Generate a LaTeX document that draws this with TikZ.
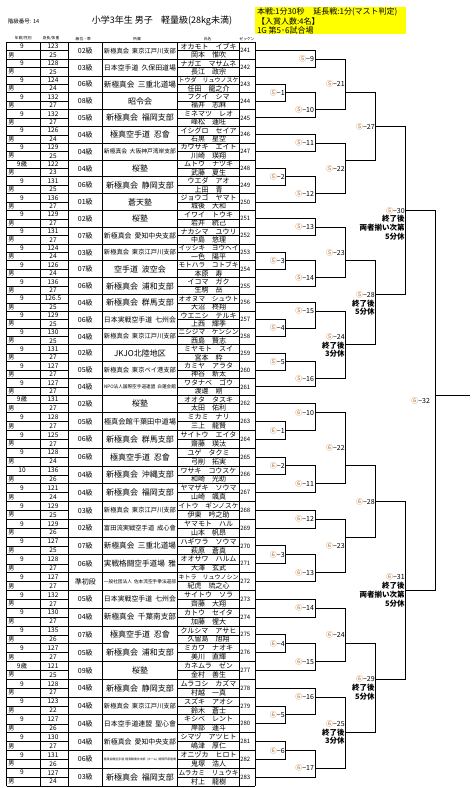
\documentclass[tikz,border=0pt]{standalone}
\usepackage{fontspec}
\setmainfont{Noto Sans CJK JP}
\usepackage{graphicx}
\usetikzlibrary{calc}
\definecolor{circ}{RGB}{185,105,35}
\definecolor{hl}{RGB}{255,255,0}
\newsavebox\fitbox
\newcommand\fitto[2]{\sbox\fitbox{#2}\ifdim\wd\fitbox>#1\relax\resizebox{#1}{!}{\usebox\fitbox}\else\usebox\fitbox\fi}
\newcommand\fsz[1]{\fontsize{#1}{#1}\selectfont}
\newcommand\gap{\hspace{0.45em}}
\pgfmathdeclarefunction{Yh}{1}{\pgfmathparse{(#1<43.5) ? (42.3+8.405*#1) : (403.7+8.89*(#1-43))}}
\newcommand\match[3]{\draw[br] (#2) -- (#2 -| #1) -- (#3 -| #1) -- (#3);}
\begin{document}
\begin{tikzpicture}[x=1pt,y=-1pt,
  tx/.style={inner sep=0pt,outer sep=0pt},
  lab/.style={inner sep=0pt,outer sep=0pt,anchor=east,font=\fsz{7}},
  note/.style={inner sep=0pt,outer sep=0pt,anchor=east,font=\fsz{7.5}\bfseries},
  br/.style={line width=0.9pt},
  tl/.style={line width=0.8pt},
  ts/.style={line width=0.45pt}]
\useasboundingbox (0,0) rectangle (474,788);

% ---------- header ----------
\node[tx,anchor=west,font=\fsz{5.5}] (lvl) at (8,21) {階級番号: 14};
\node[tx,font=\fsz{9}] (title) at (162,21) {小学3年生 男子\hspace{0.9em}軽量級(28kg未満)};
\fill[hl] (255,7) rectangle (405.7,34.3);
\node[tx,anchor=west,font=\fsz{8}] (info1) at (257,12.4) {本戦:1分30秒\hspace{1.1em}延長戦:1分(マスト判定)};
\node[tx,anchor=west,font=\fsz{8}] (info2) at (257,21.2) {【入賞人数:4名】};
\node[tx,anchor=west,font=\fsz{8}] (info3) at (257,30) {1G 第5･6試合場};

\foreach \hx/\hdt [count=\j] in {23.3/{年齢/性別},51/{身長/体重},83.3/級位・帯,137/所属,207.7/氏名,247/ゼッケン}{
  \node[tx,font=\fsz{3.8}] (hd\j) at (\hx,38.6) {\hdt};
}

% ---------- table data ----------
\foreach \zk/\ag/\hgt/\wgt/\kyu/\club/\kana/\kanji [count=\i from 0] in {
241/9/123/25/02級/新極真会\gap 東京江戸川支部/オカモト　イブキ/岡本　惟吹,
242/9/128/25/03級/日本空手道\gap 久保田道場/ナガエ　マサムネ/長江　政宗,
243/9/124/24/06級/新極真会\gap 三重北道場/トウダ　リュウノスケ/任田　龍之介,
244/9/132/27/08級/昭令会/フクイ　シマ/福井　志麻,
245/9/132/27/05級/新極真会\gap 福岡支部/ミネマツ　レオ/峰松　蓮旺,
246/9/126/24/04級/極真空手道\gap 忍會/イシグロ　セイア/石黒　星空,
247/9/129/25/04級/新極真会\gap 大阪神戸湾岸支部/カワサキ　エイト/川崎　瑛翔,
248/9歳/122/23/04級/桜塾/ムトウ　ナツキ/武藤　夏生,
249/9/131/25/06級/新極真会\gap 静岡支部/ウエダ　アオ/上田　青,
250/9/136/27/01級/蒼天塾/ジョウゴ　ヤマト/城後　大和,
251/9/129/27/02級/桜塾/イワイ　トウキ/岩井　統己,
252/9/131/27/07級/新極真会\gap 愛知中央支部/ナカシマ　ユウリ/中島　悠理,
253/9/124/24/03級/新極真会\gap 東京江戸川支部/イッシキ　ヨウヘイ/一色　陽平,
254/9/126/24/07級/空手道\gap 波空会/モトハラ　コトブキ/本原　寿,
255/9/136/27/06級/新極真会\gap 浦和支部/イコマ　ガク/生駒　岳,
256/9/126.5/25/04級/新極真会\gap 群馬支部/オオヌマ　シュウト/大沼　柊翔,
257/9/129/25/06級/日本実戦空手道\gap 七州会/ウエニシ　テルキ/上西　輝季,
258/9/130/25/04級/新極真会\gap 東京江戸川支部/ニシジマ　ケンシン/西島　賢志,
259/9/131/27/02級/JKJO北陸地区/ミヤモト　スイ/宮本　粋,
260/9/127/27/05級/新極真会\gap 東京ベイ港支部/カミヤ　アラタ/神谷　新太,
261/9/127/27/04級/NPO法人国際空手道連盟\gap 白蓮会館/ワタナベ　ゴウ/渡邊　剛,
262/9歳/131/27/02級/桜塾/オオタ　タスキ/太田　佑利,
263/9/128/27/05級/極真会館千葉田中道場/ミカミ　ナリ/三上　龍賢,
264/9/125/27/06級/新極真会\gap 群馬支部/サイトウ　エイタ/齋藤　瑛汰,
265/9/128/24/06級/極真空手道\gap 忍會/ユゲ　タクミ/弓削　拓実,
266/10/136/26/04級/新極真会\gap 沖縄支部/ワサキ　コウスケ/和崎　光助,
267/9/121/24/04級/新極真会\gap 福岡支部/ヤマザキ　ソウマ/山崎　颯真,
268/9/129/25/03級/新極真会\gap 東京江戸川支部/イトウ　ギンノスケ/伊東　吟之助,
269/9/129/26/02級/富田流実戦空手道\gap 成心會/ヤマモト　ハル/山本　帆昂,
270/9/127/25/07級/新極真会\gap 三重北道場/ハギワラ　ソウマ/萩原　蒼真,
271/9/128/27/06級/実戦格闘空手道場\gap 雅/オオサワ　ハルム/大澤　玄武,
272/9/127/27/準初段/一般社団法人\gap 佐本流空手拳法道部/キトラ　リュウノシン/紀虎　琉之心,
273/9/132/27/05級/日本実戦空手道\gap 七州会/サイトウ　ソラ/齊藤　大翔,
274/9/130/27/04級/新極真会\gap 千葉南支部/カトウ　セイタ/加藤　惺大,
275/9/135/26/07級/極真空手道\gap 忍會/クルシマ　アサヒ/久留島　旭翔,
276/9/127/27/05級/新極真会\gap 浦和支部/ミカワ　ナオキ/美川　直輝,
277/9歳/121/25/09級/桜塾/カネムラ　ゼン/金村　善生,
278/9/128/27/04級/新極真会\gap 静岡支部/ムラコシ　カズマ/村越　一真,
279/9/123/22/04級/新極真会\gap 東京江戸川支部/スズキ　アオシ/鈴木　蒼士,
280/9/127/26/04級/日本空手道連盟\gap 聖心會/キシベ　レント/岸部　蓮斗,
281/9/130/27/04級/新極真会\gap 愛知中央支部/シマヅ　アツヒト/嶋津　厚仁,
282/9/131/26/06級/極真会館空手道\gap 極真館東京本部\gap (ホーム)\gap 関西芦原道場/オニヅカ　ヒロト/鬼塚　浩人,
283/9/127/24/03級/新極真会\gap 福岡支部/ムラカミ　リュウキ/村上　龍樹}{
  \pgfmathsetmacro\yt{Yh(2*\i+0.5)}
  \pgfmathsetmacro\yb{Yh(2*\i+1.5)}
  \pgfmathsetmacro\yc{Yh(2*\i+1)}
  \node[tx,font=\fsz{6.5}] (ag\zk) at (22,\yt) {\ag};
  \node[tx,font=\fsz{6},anchor=west] (sx\zk) at (8.5,\yb) {男};
  \node[tx,font=\fsz{6.5}] (ht\zk) at (53,\yt) {\hgt};
  \node[tx,font=\fsz{6.5}] (wt\zk) at (53,\yb) {\wgt};
  \node[tx,font=\fsz{7}] (ky\zk) at (85.3,\yc) {\kyu};
  \node[tx] (cl\zk) at (140,\yc) {\fsz{8}\fitto{72pt}{\club}};
  \node[tx] (ka\zk) at (208.5,\yt) {\fsz{7}\fitto{60pt}{\kana}};
  \node[tx] (kj\zk) at (208.5,\yb) {\fsz{7}\fitto{60pt}{\kanji}};
  \node[tx,font=\fsz{6},anchor=west] (zk\zk) at (240.3,\yc) {\zk};
  \coordinate (e\zk) at (255,\yc);
}

% ---------- table grid ----------
\foreach \k in {0,...,43}{
  \pgfmathsetmacro\yy{Yh(2*\k)}
  \draw[tl] (6.7,\yy) -- (255,\yy);
}
\foreach \k in {0,...,42}{
  \pgfmathsetmacro\ym{Yh(2*\k+1)}
  \draw[ts] (6.7,\ym) -- (68.3,\ym);
  \draw[ts] (177.7,\ym) -- (239.3,\ym);
}
\foreach \xx in {6.7,40,68.3,102.3,177.7,239.3,255}{
  \draw[tl] (\xx,{Yh(0)}) -- (\xx,{Yh(86)});
}

% ---------- bracket points ----------
\foreach \nm/\xv/\hh in {
5n9/315/2, 5n1/285.7/6, 5n10/315/8, 5n21/345.7/6, 5n11/315/12, 5n2/285.7/16,
5n12/315/18, 5n22/345.7/14, 5n27/375.7/10, 5n13/315/22, 5n3/285.7/26, 5n14/315/28,
5n23/345.7/26, 5n4/285.7/34, 5n15/315/32, 5n5/285.7/38, 5n16/315/40, 5n24/345.7/36,
5n28/375.7/30, 5n30/405.7/20,
6n1/285.7/46, 6n10/315/44, 6n2/285.7/50, 6n11/315/52, 6n22/345.7/50, 6n12/315/56,
6n3/285.7/60, 6n13/315/62, 6n23/345.7/58, 6n28/375.7/54, 6n14/315/66, 6n4/285.7/70,
6n15/315/72, 6n24/345.7/70, 6n5/285.7/78, 6n16/315/76, 6n6/285.7/82, 6n17/315/84,
6n25/345.7/80, 6n29/375.7/74, 6n31/405.7/64, 6n32/435.7/42}{
  \coordinate (c\nm) at (\xv,{Yh(\hh)});
}
\coordinate (champ) at (470,{Yh(42)});

% ---------- bracket lines ----------
\match{c5n9}{e241}{e242}
\match{c5n1}{e243}{e244}
\match{c5n10}{c5n1}{e245}
\match{c5n21}{c5n9}{c5n10}
\match{c5n11}{e246}{e247}
\match{c5n2}{e248}{e249}
\match{c5n12}{c5n2}{e250}
\match{c5n22}{c5n11}{c5n12}
\match{c5n27}{c5n21}{c5n22}
\match{c5n13}{e251}{e252}
\match{c5n3}{e253}{e254}
\match{c5n14}{c5n3}{e255}
\match{c5n23}{c5n13}{c5n14}
\match{c5n4}{e257}{e258}
\match{c5n15}{e256}{c5n4}
\match{c5n5}{e259}{e260}
\match{c5n16}{c5n5}{e261}
\match{c5n24}{c5n15}{c5n16}
\match{c5n28}{c5n23}{c5n24}
\match{c5n30}{c5n27}{c5n28}
\match{c6n1}{e263}{e264}
\match{c6n10}{e262}{c6n1}
\match{c6n2}{e265}{e266}
\match{c6n11}{c6n2}{e267}
\match{c6n22}{c6n10}{c6n11}
\match{c6n12}{e268}{e269}
\match{c6n3}{e270}{e271}
\match{c6n13}{c6n3}{e272}
\match{c6n23}{c6n12}{c6n13}
\match{c6n28}{c6n22}{c6n23}
\match{c6n14}{e273}{e274}
\match{c6n4}{e275}{e276}
\match{c6n15}{c6n4}{e277}
\match{c6n24}{c6n14}{c6n15}
\match{c6n5}{e279}{e280}
\match{c6n16}{e278}{c6n5}
\match{c6n6}{e281}{e282}
\match{c6n17}{c6n6}{e283}
\match{c6n25}{c6n16}{c6n17}
\match{c6n29}{c6n24}{c6n25}
\match{c6n31}{c6n28}{c6n29}
\match{c6n32}{c5n30}{c6n31}
\draw[br] (c6n32) -- (champ);

% ---------- match labels ----------
\foreach \nm/\xv/\hh/\cc/\num in {
5n9/315/2/⑤/9, 5n1/285.7/6/⑤/1, 5n10/315/8/⑤/10, 5n21/345.7/5/⑤/21,
5n11/315/12/⑤/11, 5n2/285.7/16/⑤/2, 5n12/315/18/⑤/12, 5n22/345.7/15/⑤/22,
5n27/375.7/10/⑤/27, 5n13/315/22/⑤/13, 5n3/285.7/26/⑤/3, 5n14/315/28/⑤/14,
5n23/345.7/25/⑤/23, 5n15/315/32/⑤/15, 5n4/285.7/34/⑤/4, 5n5/285.7/38/⑤/5,
5n16/315/40/⑤/16, 5n24/345.7/35/⑤/24, 5n28/375.7/30/⑤/28, 5n30/405.7/20/⑤/30,
6n10/315/44/⑥/10, 6n1/285.7/46/⑥/1, 6n2/285.7/50/⑥/2, 6n11/315/52/⑥/11,
6n22/345.7/48/⑥/22, 6n12/315/56/⑥/12, 6n3/285.7/60/⑥/3, 6n13/315/62/⑥/13,
6n23/345.7/59/⑥/23, 6n28/375.7/54/⑥/28, 6n14/315/66/⑥/14, 6n4/285.7/70/⑥/4,
6n15/315/72/⑥/15, 6n24/345.7/69/⑥/24, 6n16/315/76/⑥/16, 6n5/285.7/78/⑥/5,
6n6/285.7/82/⑥/6, 6n17/315/84/⑥/17, 6n25/345.7/79/⑥/25, 6n29/375.7/74/⑥/29,
6n31/405.7/62.5/⑥/31, 6n32/431/42.6/⑥/32}{
  \node[lab] (l\nm) at ({\xv-1},{Yh(\hh)}) {{\color{circ}\cc}−\num};
}

% ---------- notes ----------
\foreach \xv/\yy/\ntx [count=\j] in {
344.7/345.2/終了後, 344.7/353.9/3分休,
374.7/303.2/終了後, 374.7/311.9/5分休,
404.7/219.1/終了後, 404.7/227.8/両者揃い次第, 404.7/236.5/5分休,
344.7/732.4/終了後, 344.7/741.1/3分休,
374.7/688/終了後, 374.7/696.7/5分休,
404.7/585.8/終了後, 404.7/594.5/両者揃い次第, 404.7/603.2/5分休}{
  \node[note] (nt\j) at (\xv,\yy) {\ntx};
}
\end{tikzpicture}
\end{document}
